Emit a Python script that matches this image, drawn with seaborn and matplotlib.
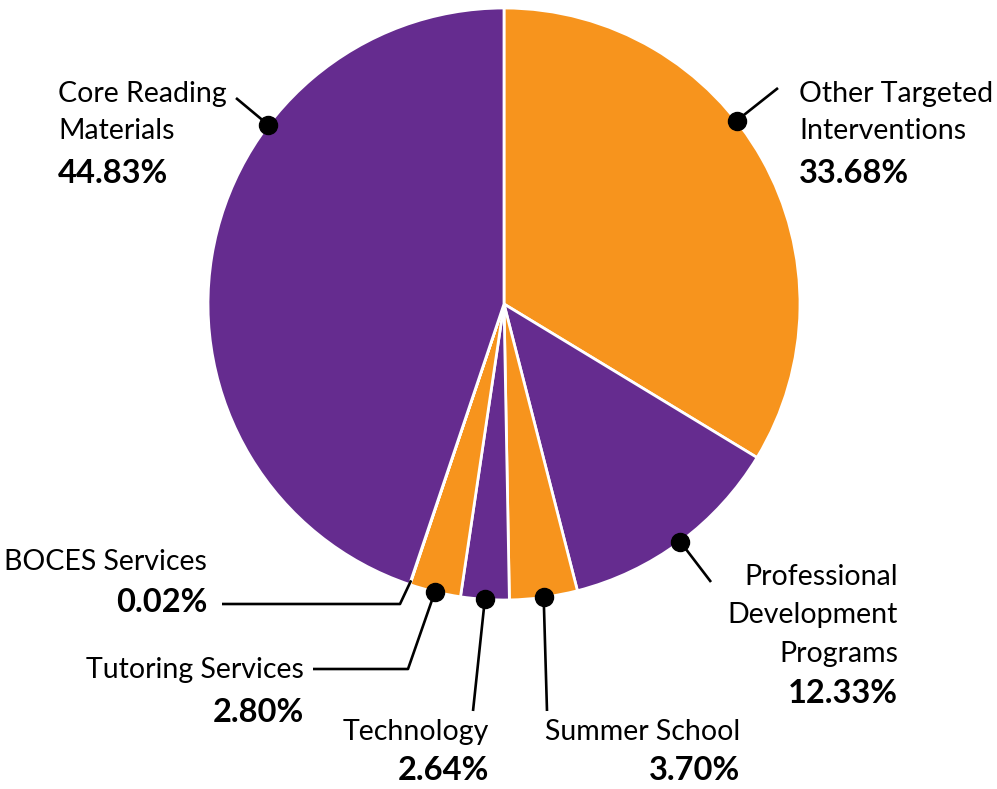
import matplotlib
matplotlib.use("Agg")
import matplotlib.pyplot as plt
import seaborn as sns
import numpy as np

# ---- data ----
categories = ["Other Targeted Interventions", "Professional Development Programs",
              "Summer School", "Technology", "Tutoring Services", "BOCES Services",
              "Core Reading Materials"]
shares = [33.68, 12.33, 3.70, 2.64, 2.80, 0.02, 44.83]
name_lines = [["Other Targeted", "Interventions"],
              ["Professional", "Development", "Programs"],
              ["Summer School"], ["Technology"], ["Tutoring Services"],
              ["BOCES Services"], ["Core Reading", "Materials"]]

PURPLE = "#652C8F"
ORANGE = "#F7941D"
slice_colors = [ORANGE, PURPLE, ORANGE, PURPLE, ORANGE, PURPLE, PURPLE]

# ---- layout (pixel coordinates, y measured from top) ----
W, H = 997, 789
CX, CY, R = 504, 304, 296
anchor_frac = [0.573, 0.5, 0.5, 0.5, 0.5, 0.5, 0.327]   # where the leader meets the wedge
has_dot = [True, True, True, True, True, False, True]
leader_pts = [[(778, 88)],
              [(711, 582)],
              [(547, 711)],
              [(473, 711)],
              [(408, 669), (313, 669)],
              [(400, 604), (222, 604)],
              [(236, 98)]]
# text: x, baseline of first line, alignment, line step, gap to percent
text_pos = [(799, 102, "left", 37, 44),
            (898, 585, "right", 38.5, 41),
            (740, 740, "right", 37, 40),
            (489, 740, "right", 37, 40),
            (304, 678, "right", 37, 44),
            (207, 570, "right", 37, 42),
            (58, 102, "left", 37, 44)]

sns.set_theme(style="white")
plt.rcParams["font.family"] = ["Lato", "DejaVu Sans"]

fig = plt.figure(figsize=(W / 100, H / 100), dpi=100)
ax = fig.add_axes([0, 0, 1, 1])

wedges, _ = ax.pie(shares, colors=slice_colors, startangle=90, counterclock=False,
                   center=(CX, H - CY), radius=R,
                   wedgeprops=dict(edgecolor="white", linewidth=2))
ax.set_xlim(0, W)
ax.set_ylim(0, H)
ax.set_aspect("equal")
ax.axis("off")

for i, w in enumerate(wedges):
    ang = np.deg2rad(w.theta1 + anchor_frac[i] * (w.theta2 - w.theta1))
    rr = R * (1.0 if has_dot[i] else 0.985)
    ax0 = CX + rr * np.cos(ang)
    ay0 = CY - rr * np.sin(ang)
    pts = [(ax0, ay0)] + leader_pts[i]
    xs = [p[0] for p in pts]
    ys = [H - p[1] for p in pts]
    ax.plot(xs, ys, color="black", lw=1.9, solid_capstyle="butt", zorder=5)
    if has_dot[i]:
        ax.plot([xs[0]], [ys[0]], "o", color="black", ms=13, zorder=6)

    tx, ty, ha, step, gap = text_pos[i]
    for j, line in enumerate(name_lines[i]):
        ax.text(tx, H - (ty + j * step), line, ha=ha, va="baseline",
                fontsize=20.5, color="black")
    ylast = ty + (len(name_lines[i]) - 1) * step
    ax.text(tx, H - (ylast + gap), f"{shares[i]:.2f}%", ha=ha, va="baseline",
            fontsize=23.5, fontweight="bold", color="black")

fig.savefig("out.png", dpi=100)
